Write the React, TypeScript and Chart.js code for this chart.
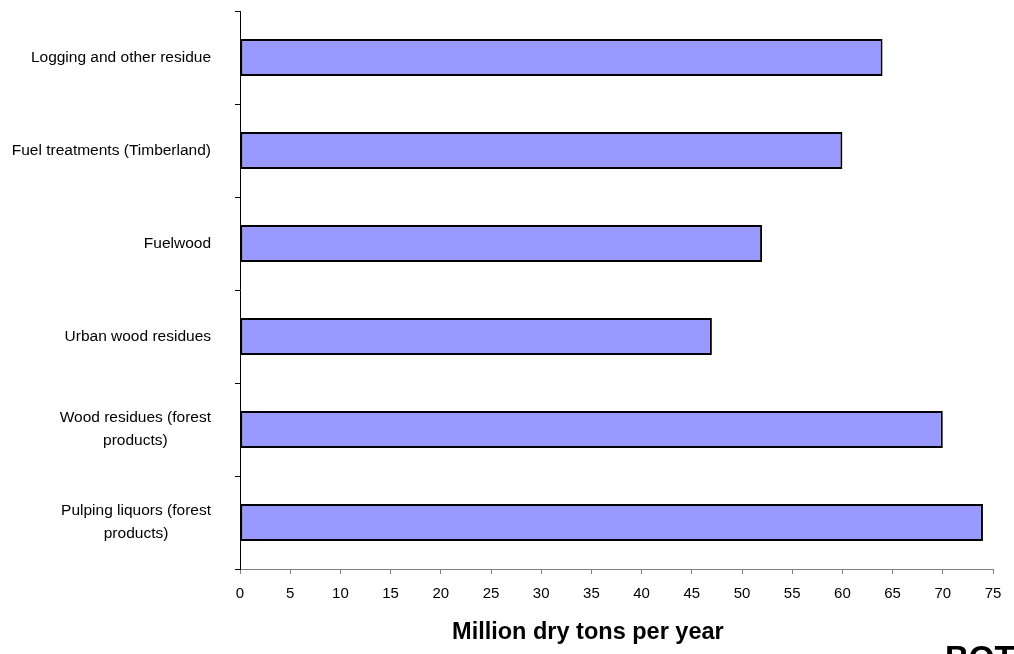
import React, { useEffect, useRef } from "react";
import { Chart, registerables } from "chart.js";

Chart.register(...registerables);

// Biomass resource categories (top to bottom) and their annual amounts
const categories: string[][] = [
  ["Logging and other residue"],
  ["Fuel treatments (Timberland)"],
  ["Fuelwood"],
  ["Urban wood residues"],
  ["Wood residues (forest", "products)"],
  ["Pulping liquors (forest", "products)"],
];
const milliontons: number[] = [64, 60, 52, 47, 70, 74];
const xTicks: number[] = [0, 5, 10, 15, 20, 25, 30, 35, 40, 45, 50, 55, 60, 65, 70, 75];
const xTitle = "Million dry tons per year";
const cornerText = "BOT";

const FONT = "Arial, 'Liberation Sans', sans-serif";

// Draws category labels (right-aligned blocks with centred lines), the axis title and corner text
const annotations = {
  id: "annotations",
  afterDraw(chart: any) {
    const { ctx, chartArea } = chart;
    const y = chart.scales.y;
    ctx.save();
    ctx.fillStyle = "#000";
    ctx.font = `15.5px ${FONT}`;
    ctx.textBaseline = "middle";
    ctx.textAlign = "center";
    const lineH = 23;
    const rightEdge = chartArea.left - 29;
    (chart.data.labels as string[][]).forEach((lines, i) => {
      const cy = y.getPixelForValue(i);
      const w = Math.max(...lines.map((l) => ctx.measureText(l).width));
      const cx = rightEdge - w / 2;
      const y0 = cy - ((lines.length - 1) * lineH) / 2;
      lines.forEach((l, k) => ctx.fillText(l, cx, y0 + k * lineH));
    });

    ctx.font = `bold 23.5px ${FONT}`;
    ctx.textBaseline = "alphabetic";
    ctx.textAlign = "center";
    const tx = chartArea.left + (chartArea.right - chartArea.left) * 0.462;
    ctx.fillText(xTitle, tx, chartArea.bottom + 70);

    ctx.font = `bold 33px ${FONT}`;
    ctx.textAlign = "left";
    ctx.fillText(cornerText, chartArea.right - 48, chartArea.bottom + 100);
    ctx.restore();
  },
};

export default function App() {
  const ref = useRef<HTMLCanvasElement | null>(null);

  useEffect(() => {
    if (!ref.current) return;
    const chart = new Chart(ref.current, {
      type: "bar",
      data: {
        labels: categories as any,
        datasets: [
          {
            data: milliontons,
            backgroundColor: "#9999FF",
            borderColor: "#000000",
            borderWidth: 2,
            borderSkipped: false,
            barPercentage: 0.4,
            categoryPercentage: 1,
          },
        ],
      },
      options: {
        indexAxis: "y",
        animation: false,
        responsive: false,
        maintainAspectRatio: false,
        layout: { padding: { left: 0, right: 21, top: 11, bottom: 0 } },
        plugins: {
          legend: { display: false },
          tooltip: { enabled: false },
          title: { display: false },
        },
        scales: {
          x: {
            type: "linear",
            min: 0,
            max: 75,
            afterBuildTicks: (scale: any) => {
              scale.ticks = xTicks.map((v) => ({ value: v }));
            },
            afterFit: (scale: any) => {
              scale.height = 85;
            },
            border: { display: true, color: "#808080", width: 1 },
            grid: {
              display: true,
              drawOnChartArea: false,
              drawTicks: true,
              tickLength: 5,
              color: "#808080",
              tickColor: "#808080",
            },
            ticks: {
              color: "#000",
              font: { family: FONT, size: 15 },
              padding: 11,
              maxRotation: 0,
              autoSkip: false,
            },
          },
          y: {
            type: "category",
            offset: true,
            afterFit: (scale: any) => {
              scale.width = 240;
            },
            border: { display: true, color: "#000", width: 1 },
            grid: {
              display: true,
              offset: true,
              drawOnChartArea: false,
              drawTicks: true,
              tickLength: 5,
              color: "#000",
              tickColor: "#000",
            },
            ticks: { display: false },
          },
        },
      },
      plugins: [annotations],
    });
    return () => chart.destroy();
  }, []);

  return (
    <div
      style={{
        position: "fixed",
        left: 0,
        top: 0,
        width: 1014,
        height: 654,
        background: "#fff",
        overflow: "hidden",
      }}
    >
      <canvas ref={ref} width={1014} height={654} style={{ display: "block" }} />
    </div>
  );
}
